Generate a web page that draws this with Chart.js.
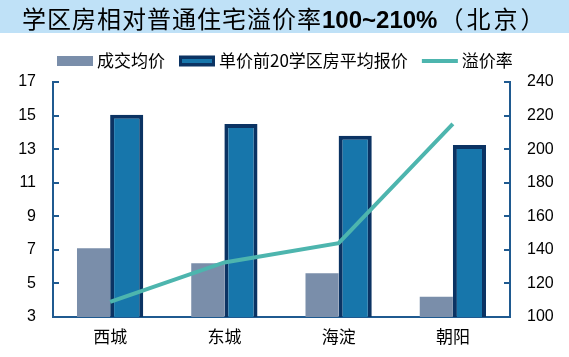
<!DOCTYPE html>
<html>
<head>
<meta charset="utf-8">
<script src="https://cdn.jsdelivr.net/npm/chart.js@4/dist/chart.umd.min.js"></script>
<style>
  html, body { margin: 0; padding: 0; background: #ffffff; }
  #wrap { position: relative; width: 569px; height: 357px; overflow: hidden; }
  #title {
    position: absolute; left: 0; top: 0; width: 569px; height: 33px;
    background: #BFE1F7; z-index: 2;
    font-family: "Noto Sans CJK SC", sans-serif; font-size: 24px; color: #000;
    line-height: 36px; white-space: nowrap; padding-left: 22px; box-sizing: border-box;
  }
  #title .cn { letter-spacing: 1px; }
  #title .pa { letter-spacing: 3px; margin-left: 2px; }
  #title b { font-family: "Liberation Sans", Arial, sans-serif; font-weight: bold; }
  canvas { position: absolute; left: 0; top: 0; }
</style>
</head>
<body>
<div id="wrap">
  <div id="title"><span class="cn">学区房相对普通住宅溢价率</span><b>100~210%</b><span class="pa">（北京）</span></div>
  <canvas id="c" width="569" height="357"></canvas>
</div>
<script>
// ---- data ----
const categories = ['西城', '东城', '海淀', '朝阳'];
const dealAvgPrice = [7.1, 6.2, 5.6, 4.2];          // 成交均价 (left axis)
const top20AvgPrice = [15.05, 14.5, 13.8, 13.25];   // 单价前20学区房平均报价 (left axis)
const premiumRate = [109, 132.5, 144, 215];         // 溢价率 (right axis)
const leftTicks = [3, 5, 7, 9, 11, 13, 15, 17];
const rightTicks = [100, 120, 140, 160, 180, 200, 220, 240];

const AXIS = '#1F5A90';
const GRAY = '#7A8EAA';
const BLUE = '#1776AB';
const NAVY = '#0B3363';
const TEAL = '#4DB5AE';

const innerTicks = {
  id: 'innerTicks',
  afterDatasetsDraw(chart) {
    const ctx = chart.ctx;
    const {left, right} = chart.chartArea;
    ctx.save();
    ctx.strokeStyle = AXIS;
    ctx.lineWidth = 2;
    const yl = chart.scales.y, yr = chart.scales.y1;
    leftTicks.forEach(v => {
      const p = Math.round(yl.getPixelForValue(v));
      ctx.beginPath(); ctx.moveTo(left, p); ctx.lineTo(left + 6, p); ctx.stroke();
    });
    rightTicks.forEach(v => {
      const p = Math.round(yr.getPixelForValue(v));
      ctx.beginPath(); ctx.moveTo(right, p); ctx.lineTo(right - 6, p); ctx.stroke();
    });
    ctx.restore();
  }
};

const customLegend = {
  id: 'customLegend',
  afterDraw(chart) {
    const ctx = chart.ctx;
    ctx.save();
    ctx.font = '17px "Noto Sans CJK SC", "Liberation Sans", sans-serif';
    ctx.textBaseline = 'middle';
    ctx.fillStyle = '#000';
    const cy = 61;
    let x = 57;
    const ds = chart.data.datasets;
    const order = [1, 2, 0]; // bars first, then line
    order.forEach((i) => {
      const d = ds[i];
      if (d.type === 'line') {
        ctx.strokeStyle = d.borderColor; ctx.lineWidth = 4;
        ctx.beginPath(); ctx.moveTo(x, cy); ctx.lineTo(x + 36, cy); ctx.stroke();
      } else if (d.borderWidth) {
        ctx.fillStyle = d.borderColor;
        ctx.fillRect(x, cy - 5.5, 36, 11);
        ctx.fillStyle = d.backgroundColor;
        ctx.fillRect(x + 3, cy - 2, 30, 4);
      } else {
        ctx.fillStyle = d.backgroundColor;
        ctx.fillRect(x, cy - 5, 36, 10);
      }
      x += 36 + 4;
      ctx.fillStyle = '#000';
      ctx.fillText(d.label, x, cy);
      x += ctx.measureText(d.label).width + 14;
    });
    ctx.restore();
  }
};

new Chart(document.getElementById('c'), {
  data: {
    labels: categories,
    datasets: [
      {
        type: 'line', label: '溢价率', data: premiumRate, yAxisID: 'y1',
        borderColor: TEAL, backgroundColor: TEAL, borderWidth: 4,
        pointRadius: 0, tension: 0, order: 0
      },
      {
        type: 'bar', label: '成交均价', data: dealAvgPrice, yAxisID: 'y',
        backgroundColor: GRAY, borderWidth: 0, order: 1,
        barPercentage: 1.0, categoryPercentage: 0.58
      },
      {
        type: 'bar', label: '单价前20学区房平均报价', data: top20AvgPrice, yAxisID: 'y',
        backgroundColor: BLUE, borderColor: NAVY, borderWidth: 4, borderSkipped: false, order: 1,
        barPercentage: 1.0, categoryPercentage: 0.58
      }
    ]
  },
  options: {
    responsive: false,
    animation: false,
    layout: { padding: { top: 82, bottom: 0, left: 0, right: 0 } },
    plugins: { legend: { display: false }, tooltip: { enabled: false }, title: { display: false } },
    scales: {
      x: {
        grid: { display: false, drawTicks: false },
        border: { display: true, color: AXIS, width: 2 },
        ticks: { color: '#000', padding: 9, font: { family: '"Noto Sans CJK SC", sans-serif', size: 17 } },
        afterFit(s) { s.height = 40; }
      },
      y: {
        position: 'left', min: 3, max: 17,
        afterBuildTicks(s) { s.ticks = leftTicks.map(v => ({ value: v })); },
        grid: { display: false, drawTicks: false },
        border: { display: true, color: AXIS, width: 2 },
        ticks: { color: '#000', padding: 17, font: { family: '"Liberation Sans", Arial, sans-serif', size: 16 } },
        afterFit(s) { s.width = 53; }
      },
      y1: {
        position: 'right', min: 100, max: 240,
        afterBuildTicks(s) { s.ticks = rightTicks.map(v => ({ value: v })); },
        grid: { display: false, drawTicks: false },
        border: { display: true, color: AXIS, width: 2 },
        ticks: { color: '#000', padding: 17, font: { family: '"Liberation Sans", Arial, sans-serif', size: 16 } },
        afterFit(s) { s.width = 59; }
      }
    }
  },
  plugins: [innerTicks, customLegend]
});
</script>
</body>
</html>
